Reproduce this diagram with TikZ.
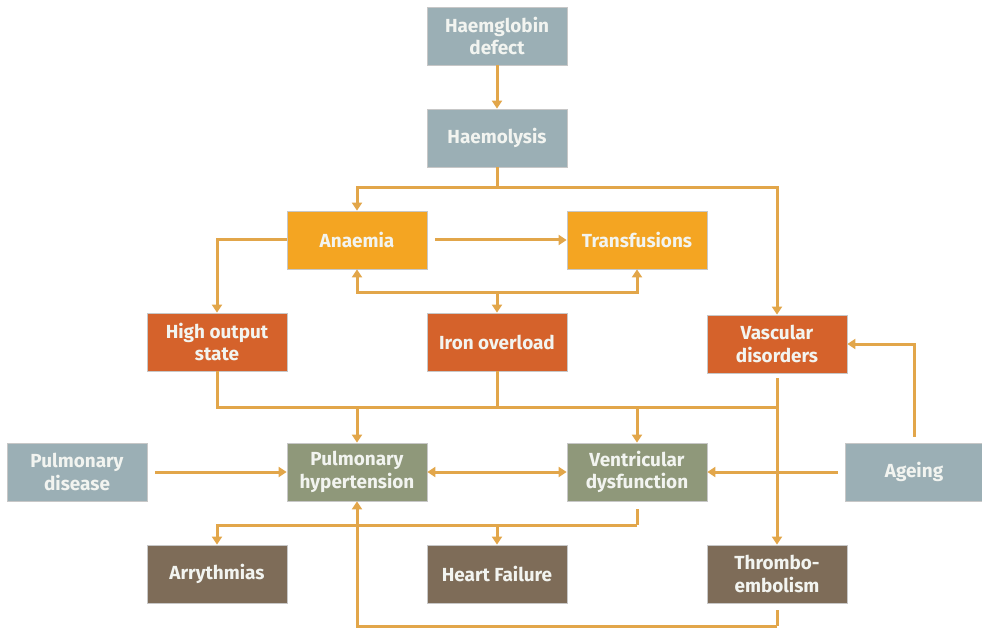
\documentclass[tikz,border=0pt]{standalone}
\usepackage{fontspec}
\setmainfont{Fira Sans}
\usetikzlibrary{arrows.meta}
\definecolor{cblue}{HTML}{9BAFB5}
\definecolor{cyel}{HTML}{F4A522}
\definecolor{cred}{HTML}{D5622B}
\definecolor{cgreen}{HTML}{8F987A}
\definecolor{cbrown}{HTML}{7E6C58}
\definecolor{cline}{HTML}{E2A64A}
\definecolor{ctext}{HTML}{F2F4F0}
\begin{document}
\begin{tikzpicture}[x=1bp,y=-1bp,
  box/.style={minimum width=140bp,minimum height=58bp,inner sep=0pt,align=center,
    text=ctext,font=\bfseries\fontsize{19}{22.5}\selectfont,draw=black!22,line width=0.8bp},
  conn/.style={draw=cline,line width=3bp},
  tip/.tip={Triangle[length=8bp,width=10bp]},
  arr/.style={conn,-tip}]
\useasboundingbox (0,0) rectangle (982,628);
\node[box,fill=cblue] (hd) at (497,36) {Haemglobin\\defect};
\node[box,fill=cblue] (hl) at (497,138) {Haemolysis};
\node[box,fill=cyel] (an) at (357,240) {Anaemia};
\node[box,fill=cyel] (tr) at (637,240) {Transfusions};
\node[box,fill=cred] (ho) at (217,342) {High output\\state};
\node[box,fill=cred] (io) at (497,342) {Iron overload};
\node[box,fill=cred] (vd) at (777,344) {Vascular\\disorders};
\node[box,fill=cblue] (pd) at (77,472) {Pulmonary\\disease};
\node[box,fill=cgreen] (ph) at (357,472) {Pulmonary\\hypertension};
\node[box,fill=cgreen] (vdys) at (637,472) {Ventricular\\dysfunction};
\node[box,fill=cblue,minimum width=137bp] (ag) at (914,472) {Ageing};
\node[box,fill=cbrown] (ar) at (217,574) {Arrythmias};
\node[box,fill=cbrown] (hf) at (497,574) {Heart Failure};
\node[box,fill=cbrown] (te) at (777,574) {Thrombo-\\embolism};
\coordinate (j1) at (497,188);
\coordinate (j2) at (497,292);
\coordinate (j3) at (777,407);
\coordinate (j4) at (637,525);
\coordinate (j5) at (777,626);
\draw[arr] (hd) -- (hl);
\draw[conn] (hl) -- (j1);
\draw[arr] (j1) -| (an);
\draw[arr] (j1) -| (vd);
\draw[arr] ([xshift=8bp]an.east) -- (tr);
\draw[arr] (an) -| (ho);
\draw[arr] (j2) -| (an);
\draw[arr] (j2) -| (tr);
\draw[arr] (j2) -- (io);
\draw[conn] (ho) |- (j3);
\draw[conn] (io) -- (io |- j3);
\draw[arr] (ph |- j3) -- (ph);
\draw[arr] (vdys |- j3) -- (vdys);
\draw[arr] ([yshift=-5bp]vd.south) -- (te);
\draw[arr] ([xshift=8bp]pd.east) -- (ph);
\draw[conn,tip-tip] (ph) -- (vdys);
\draw[arr] ([xshift=-7bp]ag.west) -- (vdys);
\draw[arr] ([yshift=6bp]ag.north) |- (vd);
\draw[conn] ([yshift=-8bp]vdys.south) -- (j4);
\draw[arr] (j4) -| (ar);
\draw[arr] (hf |- j4) -- (hf);
\draw[conn] ([yshift=-7bp]te.south) -- (j5);
\draw[arr] (j5) -| (ph);
\end{tikzpicture}
\end{document}
